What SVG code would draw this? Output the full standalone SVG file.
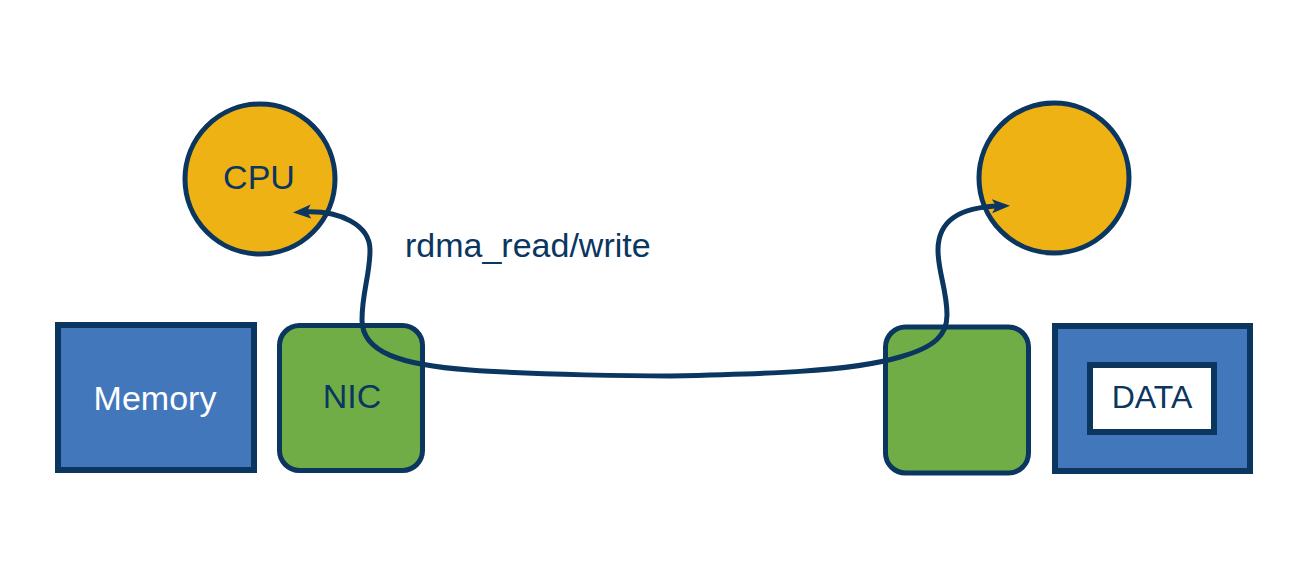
<svg xmlns="http://www.w3.org/2000/svg" width="1308" height="577" viewBox="0 0 1308 577">
<defs>
<style>
.cpu{fill:#eeb215;stroke:#0b3660;stroke-width:5}
.nic{fill:#70ad47;stroke:#0b3660;stroke-width:5}
.mem{fill:#4277bb;stroke:#0b3660;stroke-width:6}
.data{fill:#ffffff;stroke:#0b3660;stroke-width:6}
.t{font-family:"Liberation Sans",Arial,sans-serif;font-size:34px;fill:#0b3660;text-anchor:middle}
.w{fill:#ffffff}
.conn{fill:none;stroke:#0b3660;stroke-width:5}
</style>
<marker id="ah" markerUnits="userSpaceOnUse" markerWidth="20" markerHeight="16" refX="8" refY="7" orient="auto-start-reverse" viewBox="0 0 20 16">
<path d="M0,0 L18,7 L0,14 L4,7 Z" fill="#0b3660"/>
</marker>
</defs>
<rect width="1308" height="577" fill="#ffffff"/>
<g id="cpu-left">
<circle class="cpu" cx="260" cy="179" r="75"/>
<text class="t" x="259" y="189">CPU</text>
</g>
<g id="cpu-right">
<circle class="cpu" cx="1054" cy="178" r="75"/>
</g>
<g id="memory-left">
<rect class="mem" x="58" y="325" width="196" height="145"/>
<text class="t w" x="155" y="410">Memory</text>
</g>
<g id="nic-left">
<rect class="nic" x="279.5" y="325.5" width="143" height="145" rx="20"/>
<text class="t" x="352" y="408">NIC</text>
</g>
<g id="nic-right">
<rect class="nic" x="885.5" y="327" width="143" height="146" rx="20"/>
</g>
<g id="memory-right">
<rect class="mem" x="1055" y="326" width="195" height="145"/>
<rect class="data" x="1090" y="365" width="124" height="67"/>
<text class="t" x="1152" y="408" style="font-size:32px">DATA</text>
</g>
<g id="label">
<text class="t" x="405" y="257" style="text-anchor:start">rdma_read/write</text>
</g>
<g id="connectors">
<path class="conn" marker-start="url(#ah)" marker-end="url(#ah)" d="M303,212 C340,210 370,225 370,250 C370,275 362,292 362,320 C362,352 400,365 470,370 C540,375 640,376 670,376 C760,374 850,372 900,357 C935,347 947,335 947,315 C947,290 938,272 938,250 C938,220 960,207 1000,206"/>
</g>
</svg>
